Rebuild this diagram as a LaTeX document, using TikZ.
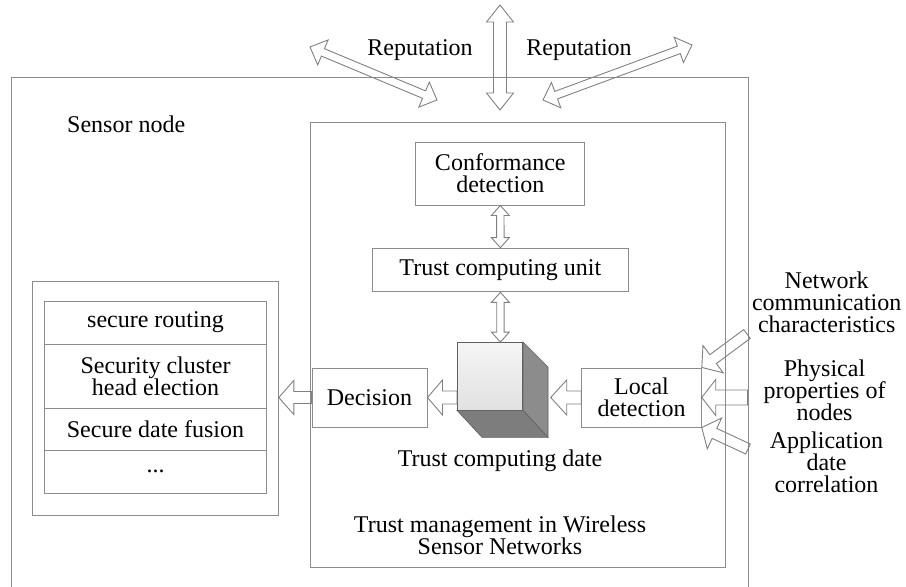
\documentclass[tikz,border=0pt]{standalone}
\usepackage{fontspec}
\setmainfont{Liberation Serif}
\usetikzlibrary{calc}
\definecolor{boxgray}{RGB}{140,140,140}
\definecolor{arrgray}{RGB}{128,128,128}
\definecolor{cubefronttop}{RGB}{245,245,245}
\definecolor{cubefrontbot}{RGB}{225,225,225}
\definecolor{cuberight}{RGB}{140,140,140}
\definecolor{cubebottom}{RGB}{125,125,125}
\definecolor{cubeedge}{RGB}{95,95,95}
% hollow block arrow: #1 from, #2 to, #3 shaft half width, #4 head half width, #5 head length, #6 1=double headed
\newcommand\blockarrow[6]{%
  \path let \p1=(#1), \p2=(#2) in \pgfextra{%
    \pgfmathsetmacro\baAng{atan2(\y2-\y1,\x2-\x1)}%
    \pgfmathsetmacro\baLen{veclen(\x2-\x1,\y2-\y1)}%
    \pgfmathsetmacro\baMid{\baLen-#5}%
    \xdef\baX{\x1}\xdef\baY{\y1}\xdef\baA{\baAng}\xdef\baL{\baLen}\xdef\baM{\baMid}};
  \begin{scope}[shift={(\baX,\baY)},rotate=\baA]
    \ifnum#6=1
      \draw[arrowline] (0pt,0pt) -- (#5pt,#4pt) -- (#5pt,#3pt) -- (\baM pt,#3pt) -- (\baM pt,#4pt)
        -- (\baL pt,0pt) -- (\baM pt,-#4pt) -- (\baM pt,-#3pt) -- (#5pt,-#3pt) -- (#5pt,-#4pt) -- cycle;
    \else
      \draw[arrowline] (0pt,#3pt) -- (\baM pt,#3pt) -- (\baM pt,#4pt)
        -- (\baL pt,0pt) -- (\baM pt,-#4pt) -- (\baM pt,-#3pt) -- (0pt,-#3pt) -- cycle;
    \fi
  \end{scope}}
\tikzset{
  txt/.style={inner sep=0pt, align=center, font={\fontsize{24pt}{22pt}\selectfont\lineskiplimit=-50pt}},
  bx/.style={txt, draw=boxgray, line width=1pt},
  arrowline/.style={draw=arrgray, line width=0.9pt, line join=miter},
}
\begin{document}
\begin{tikzpicture}[x=1pt,y=-1pt]
\useasboundingbox (0,0) rectangle (906,587);
% outer sensor node frame (open at the bottom)
\draw[draw=boxgray, line width=1pt] (11,587.5) -- (11,77) -- (748,77) -- (748,587.5);
\node[txt, anchor=base west] (sn) at (67,132) {Sensor node};
% trust management frame
\node[bx, minimum width=415.5pt, minimum height=445pt] (tm) at (517.75,344.5) {};
\node[txt] (tmw) at (500,535.3) {Trust management in Wireless\\Sensor Networks};
% inner boxes
\node[bx, minimum width=169.3pt, minimum height=63pt] (conf) at (500.3,173.5) {Conformance\\detection};
\node[bx, minimum width=255.3pt, minimum height=43.7pt] (tcu) at (500.4,270) {Trust computing unit};
\node[bx, minimum width=115pt, minimum height=59pt] (dec) at (369.5,397.5) {Decision};
\node[bx, minimum width=119.5pt, minimum height=59pt] (loc) at (641.5,397.5) {Local\\detection};
% application list
\node[bx, minimum width=246pt, minimum height=234pt] (list) at (155.3,398) {};
\node[bx, minimum width=222.4pt, minimum height=43pt] (r1) at (155.5,322.5) {secure routing};
\node[bx, minimum width=222.4pt, minimum height=64.3pt] (r2) at (155.5,376.15) {Security cluster\\head election};
\node[bx, minimum width=222.4pt, minimum height=41.7pt] (r3) at (155.5,429.15) {Secure date fusion};
\node[bx, minimum width=222.4pt, minimum height=43pt] (r4) at (155.5,471.5) {...};
% cube
\node[draw=cubeedge, line width=0.6pt, top color=cubefronttop, bottom color=cubefrontbot,
      minimum width=65.4pt, minimum height=67.7pt, inner sep=0pt] (cube) at (490,376.2) {};
\filldraw[fill=cuberight, draw=cubeedge, line width=0.6pt]
  (cube.north east) -- ++(25,25) -- ($(cube.south east)+(25,27)$) -- (cube.south east) -- cycle;
\filldraw[fill=cubebottom, draw=cubeedge, line width=0.6pt]
  (cube.south west) -- (cube.south east) -- ++(25,27) -- ($(cube.south west)+(25,27)$) -- cycle;
\node[txt, anchor=base] (tcd) at (500,466) {Trust computing date};
% external labels
\node[txt, anchor=base] (rep1) at (420,55) {Reputation};
\node[txt, anchor=base] (rep2) at (579,55) {Reputation};
\node[txt] (net) at (826.7,302) {Network\\communication\\characteristics};
\node[txt] (phy) at (824.5,390.1) {Physical\\properties of\\nodes};
\node[txt] (app) at (826.5,461.8) {Application\\date\\correlation};
% coordinates for arrow ends
\coordinate (topv1) at (500,5);
\coordinate (topv2) at (500,110);
\coordinate (repL1) at (310,47);
\coordinate (repL2) at (437,100);
\coordinate (repR1) at (543,100);
\coordinate (repR2) at (692,45);
\coordinate (cubetop) at (tcu.south |- cube.north);
\coordinate (cubeR) at (550.7,397.5);
\coordinate (cubeL) at (cube.west |- dec.east);
\coordinate (listR) at (list.east |- dec.west);
\coordinate (in1) at (747,334);
\coordinate (in2) at (747.5,397.5);
\coordinate (in3) at (748,449);
% arrows
\blockarrow{topv2}{topv1}{6.5}{13.5}{17}{1}
\blockarrow{repL1}{repL2}{4}{13.5}{14}{1}
\blockarrow{repR1}{repR2}{4}{13.5}{14}{1}
\blockarrow{conf.south}{tcu.north}{3.7}{9}{10}{1}
\blockarrow{tcu.south}{cubetop}{3.7}{9}{10}{1}
\blockarrow{loc.west}{cubeR}{6.5}{17.5}{16}{0}
\blockarrow{cubeL}{dec.east}{6.5}{17.5}{15}{0}
\blockarrow{dec.west}{listR}{6}{17}{15}{0}
\blockarrow{in1}{loc.north east}{5.5}{17}{14}{0}
\blockarrow{in2}{loc.east}{7.5}{18}{14}{0}
\blockarrow{in3}{loc.south east}{5.5}{17}{14}{0}
\end{tikzpicture}
\end{document}
